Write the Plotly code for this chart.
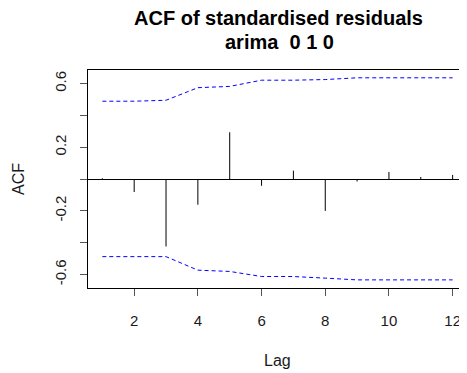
import plotly.graph_objects as go

lags = [1, 2, 3, 4, 5, 6, 7, 8, 9, 10, 11, 12]
acf = [0.005, -0.081, -0.423, -0.161, 0.294, -0.042, 0.053, -0.200, -0.015, 0.045, 0.013, 0.026]
upper = [0.489, 0.489, 0.495, 0.574, 0.582, 0.621, 0.621, 0.625, 0.636, 0.636, 0.636, 0.636]
lower = [-0.487, -0.487, -0.487, -0.572, -0.580, -0.612, -0.612, -0.622, -0.633, -0.633, -0.633, -0.633]
xticks = [2, 4, 6, 8, 10, 12]
yticks = [-0.6, -0.4, -0.2, 0.0, 0.2, 0.4, 0.6]
yticktext = ["-0.6", "", "-0.2", "", "0.2", "", "0.6"]
title1 = "ACF of standardised residuals"
title2 = "arima  0 1 0"

# page has an 8px body margin; size figure to fill the 467x373 window
OFF = 8
W, H = 467 - OFF, 373 - OFF
L, R, T, B = 88 - OFF, 1, 70 - OFF, 85
pw, ph = W - L - R, H - T - B

def px(x):  # page pixel x -> paper
    return (x - OFF - L) / pw

def py(y):  # page pixel y -> paper
    return (H - B - (y - OFF)) / ph

sx, sy = [], []
for l, a in zip(lags, acf):
    sx += [l, l, None]
    sy += [0, a, None]

fig = go.Figure()
fig.add_trace(go.Scatter(x=sx, y=sy, mode="lines", line=dict(color="black", width=1),
                         hoverinfo="skip", showlegend=False))
fig.add_trace(go.Scatter(x=lags, y=upper, mode="lines",
                         line=dict(color="#0000FF", width=1, dash="4px,3px"), showlegend=False))
fig.add_trace(go.Scatter(x=lags, y=lower, mode="lines",
                         line=dict(color="#0000FF", width=1, dash="4px,3px"), showlegend=False))

fam = "Liberation Sans, Arial, sans-serif"
tickfont = dict(family=fam, color="#1a1a1a", size=15)

annots = [
    dict(text="<b>%s</b>" % title1, x=px(278), y=py(18), xref="paper", yref="paper",
         xanchor="center", yanchor="middle", showarrow=False,
         font=dict(family=fam, size=20, color="black")),
    dict(text="<b>%s</b>" % title2, x=px(279), y=py(42), xref="paper", yref="paper",
         xanchor="center", yanchor="middle", showarrow=False,
         font=dict(family=fam, size=20, color="black")),
    dict(text="Lag", x=px(277), y=py(360), xref="paper", yref="paper",
         xanchor="center", yanchor="middle", showarrow=False,
         font=dict(family=fam, size=16, color="#1a1a1a")),
    dict(text="ACF", x=px(18), y=py(179), xref="paper", yref="paper", textangle=-90,
         xanchor="center", yanchor="middle", showarrow=False,
         font=dict(family=fam, size=16, color="#1a1a1a")),
]

fig.update_layout(
    width=W, height=H,
    margin=dict(l=L, r=R, t=T, b=B, autoexpand=False),
    paper_bgcolor="white", plot_bgcolor="white",
    annotations=annots,
    xaxis=dict(range=[0.55, 12.42], tickvals=xticks, ticks="outside", ticklen=7,
               tickcolor="#555555", showgrid=False, zeroline=False,
               showline=True, linecolor="black", mirror=True, linewidth=1,
               ticklabelstandoff=12, tickfont=tickfont, automargin=False),
    yaxis=dict(range=[-0.684, 0.685], tickvals=yticks, ticktext=yticktext, ticks="outside",
               ticklen=7, tickcolor="#555555", tickangle=-90, showgrid=False,
               zeroline=True, zerolinecolor="black", zerolinewidth=1,
               showline=True, linecolor="black", mirror=True, linewidth=1,
               ticklabelstandoff=8, tickfont=tickfont, automargin=False),
)

fig.write_html("out.html")
